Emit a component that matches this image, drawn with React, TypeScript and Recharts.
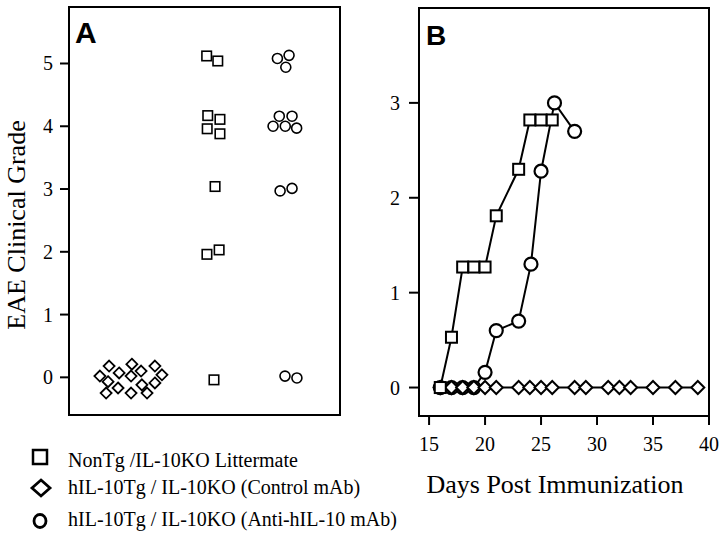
import React from 'react';
import {
  ScatterChart,
  Scatter,
  XAxis,
  YAxis,
  ReferenceArea,
} from 'recharts';

// Panel A: individual animals (x = jitter position inside each group column)
const nonTgJitter = [50.8, 54.9, 51.2, 55.7, 51.0, 55.7, 53.9, 50.9, 55.4, 53.5];
const nonTgGrade = [5.12, 5.04, 4.17, 4.11, 3.96, 3.88, 3.04, 1.96, 2.03, -0.04];

const controlJitter = [11.4, 14.8, 18.5, 14.4, 23.2, 22.9, 26.6, 31.7, 34.3, 18.1, 13.7, 22.9, 26.9, 31.7, 28.8];
const controlGrade = [0.02, 0.18, 0.07, -0.07, 0.21, 0.02, 0.1, 0.18, 0.04, -0.17, -0.25, -0.25, -0.12, -0.09, -0.25];

const antiJitter = [76.9, 81.2, 80.0, 77.6, 82.3, 75.3, 79.8, 84.0, 77.9, 82.3, 79.7, 84.1];
const antiGrade = [5.08, 5.13, 4.94, 4.16, 4.16, 4.0, 4.0, 3.97, 2.97, 3.01, 0.02, -0.01];

const gradeTicks = [0, 1, 2, 3, 4, 5];

// Panel B: mean clinical grade over time
const nonTgDays = [16, 17, 18, 19, 20, 21, 23, 24, 25, 26];
const nonTgMean = [0, 0.53, 1.27, 1.27, 1.27, 1.81, 2.3, 2.82, 2.82, 2.82];

const antiDays = [16, 17, 18, 19, 20, 21, 23, 24.1, 25, 26.2, 28];
const antiMean = [0, 0, 0, 0, 0.16, 0.6, 0.7, 1.3, 2.28, 3.0, 2.7];

const controlDays = [16, 17, 18, 19, 20, 21, 23, 24, 25, 26, 28, 29, 31, 32, 33, 35, 37, 39];
const controlMean = [0, 0, 0, 0, 0, 0, 0, 0, 0, 0, 0, 0, 0, 0, 0, 0, 0, 0];

const dayTicks = [15, 20, 25, 30, 35, 40];
const meanTicks = [0, 1, 2, 3];

const legendLabels = [
  'NonTg /IL-10KO Littermate',
  'hIL-10Tg / IL-10KO (Control mAb)',
  'hIL-10Tg / IL-10KO (Anti-hIL-10 mAb)',
];

const zip = (xs: number[], ys: number[]) => xs.map((x, i) => ({ x, y: ys[i] }));

const SERIF = "'Liberation Serif', 'Times New Roman', serif";
const SANS = "'Liberation Sans', Arial, sans-serif";

const squareShape = (size: number, sw: number) => (p: any) => (
  <rect x={p.cx - size / 2} y={p.cy - size / 2} width={size} height={size} fill="#fff" stroke="#000" strokeWidth={sw} />
);

const circleShape = (r: number, sw: number) => (p: any) => (
  <circle cx={p.cx} cy={p.cy} r={r} fill="#fff" stroke="#000" strokeWidth={sw} />
);

const diamondShape = (h: number, sw: number) => (p: any) => (
  <path
    d={`M${p.cx},${p.cy - h}L${p.cx + h},${p.cy}L${p.cx},${p.cy + h}L${p.cx - h},${p.cy}Z`}
    fill="#fff"
    stroke="#000"
    strokeWidth={sw}
  />
);

// serif tick labels
const YTick = ({ x, y, payload }: any) => (
  <text x={x} y={y} dy="0.35em" textAnchor="end" fill="#000" fontSize={20} style={{ fontFamily: SERIF }}>
    {payload.value}
  </text>
);

const XTick = ({ x, y, payload }: any) => (
  <text x={x} y={y} dy="0.71em" textAnchor="middle" fill="#000" fontSize={20} style={{ fontFamily: SERIF }}>
    {payload.value}
  </text>
);

const tickLine = { stroke: '#000', strokeWidth: 2 };

function PanelA() {
  return (
    <ScatterChart width={360} height={440} margin={{ top: 7, right: 20, bottom: 25, left: 0 }}>
      <XAxis type="number" dataKey="x" domain={[0, 100]} hide />
      <YAxis
        type="number"
        dataKey="y"
        domain={[-0.6, 5.9]}
        ticks={gradeTicks}
        allowDataOverflow
        width={69}
        axisLine={false}
        tickLine={tickLine}
        tickSize={9}
        tickMargin={7}
        tick={<YTick />}
      />
      <ReferenceArea x1={0} x2={100} y1={-0.6} y2={5.9} fill="none" stroke="#000" strokeWidth={2} />
      <Scatter data={zip(controlJitter, controlGrade)} shape={diamondShape(5.5, 1.8)} isAnimationActive={false} />
      <Scatter data={zip(nonTgJitter, nonTgGrade)} shape={squareShape(9.5, 1.6)} isAnimationActive={false} />
      <Scatter data={zip(antiJitter, antiGrade)} shape={circleShape(5, 1.6)} isAnimationActive={false} />
    </ScatterChart>
  );
}

function PanelB() {
  return (
    <ScatterChart width={360} height={470} margin={{ top: 8, right: 11, bottom: 14, left: 0 }}>
      <XAxis
        type="number"
        dataKey="x"
        domain={[14.1, 40]}
        ticks={dayTicks}
        interval={0}
        allowDataOverflow
        height={40}
        axisLine={false}
        tickLine={tickLine}
        tickSize={9}
        tickMargin={12}
        tick={<XTick />}
      />
      <YAxis
        type="number"
        dataKey="y"
        domain={[-0.3, 4]}
        ticks={meanTicks}
        allowDataOverflow
        width={59}
        axisLine={false}
        tickLine={tickLine}
        tickSize={10}
        tickMargin={9}
        tick={<YTick />}
      />
      <ReferenceArea x1={14.1} x2={40} y1={-0.3} y2={4} fill="none" stroke="#000" strokeWidth={2} />
      <Scatter
        data={zip(antiDays, antiMean)}
        line={{ stroke: '#000', strokeWidth: 2 }}
        shape={circleShape(6.5, 2.2)}
        isAnimationActive={false}
      />
      <Scatter
        data={zip(controlDays, controlMean)}
        line={{ stroke: '#000', strokeWidth: 2 }}
        shape={diamondShape(6.5, 2)}
        isAnimationActive={false}
      />
      <Scatter
        data={zip(nonTgDays, nonTgMean)}
        line={{ stroke: '#000', strokeWidth: 2 }}
        shape={squareShape(11, 2)}
        isAnimationActive={false}
      />
    </ScatterChart>
  );
}

export default function App() {
  const legendRows = [457, 488, 521];
  const textBase = [467, 494, 526];
  return (
    <div
      style={{
        position: 'fixed',
        left: 0,
        top: 0,
        width: 720,
        height: 545,
        background: '#fff',
        fontFamily: SERIF,
      }}
    >
      <div style={{ position: 'absolute', left: 0, top: 0 }}>
        <PanelA />
      </div>
      <div style={{ position: 'absolute', left: 360, top: 0 }}>
        <PanelB />
      </div>
      <svg width={720} height={545} style={{ position: 'absolute', left: 0, top: 0, pointerEvents: 'none' }}>
        <text x={75} y={43} style={{ fontFamily: SANS }} fontWeight="bold" fontSize={30}>A</text>
        <text x={426} y={45} style={{ fontFamily: SANS }} fontWeight="bold" fontSize={28}>B</text>
        <text
          x={25}
          y={225}
          textAnchor="middle"
          style={{ fontFamily: SERIF }}
          fontSize={26}
          transform="rotate(-90, 25, 225)"
        >
          EAE Clinical Grade
        </text>
        <text x={555} y={493} textAnchor="middle" style={{ fontFamily: SERIF }} fontSize={26}>
          Days Post Immunization
        </text>
        <rect x={33} y={legendRows[0] - 7} width={14} height={14} fill="#fff" stroke="#000" strokeWidth={2.5} />
        <path
          d={`M41,${legendRows[1] - 8}L50,${legendRows[1]}L41,${legendRows[1] + 8}L32,${legendRows[1]}Z`}
          fill="#fff"
          stroke="#000"
          strokeWidth={2.8}
        />
        <ellipse cx={40} cy={legendRows[2]} rx={6} ry={6.5} fill="#fff" stroke="#000" strokeWidth={2.8} />
        {legendLabels.map((label, i) => (
          <text key={label} x={68} y={textBase[i]} style={{ fontFamily: SERIF }} fontSize={20}>
            {label}
          </text>
        ))}
      </svg>
    </div>
  );
}
